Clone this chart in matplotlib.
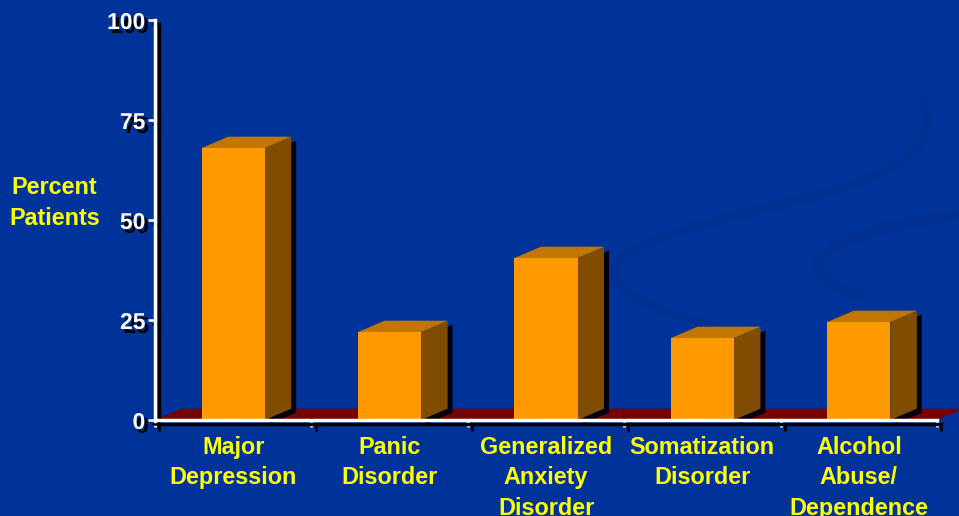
import matplotlib
matplotlib.use("Agg")
import matplotlib.pyplot as plt
import matplotlib.patheffects as pe
from matplotlib.patches import Polygon, PathPatch
from matplotlib.path import Path
import numpy as np

# ---- data ----
categories = ["Major\nDepression", "Panic\nDisorder", "Generalized\nAnxiety\nDisorder",
              "Somatization\nDisorder", "Alcohol\nAbuse/\nDependence"]
values = [68, 22, 40.5, 20.5, 24.5]
y_ticks = [0, 25, 50, 75, 100]
y_label = "Percent\nPatients"

# ---- style ----
BG = "#003399"
SWIRL = "#003192"
FRONT = "#FF9900"
TOP = "#C17600"
SIDE = "#804D00"
FLOOR = "#770000"
YELLOW = "#FFFF00"
FONT = "Liberation Sans"
LS = 1.41

W, H = 959, 516
fig = plt.figure(figsize=(W / 100, H / 100), dpi=100, facecolor=BG)

def fp(x, y):
    return (x / W, 1 - y / H)

# background swirls (decorative)
def swirl(points, lw):
    verts = [fp(*p) for p in points]
    codes = [Path.MOVETO] + [Path.CURVE4] * (len(verts) - 1)
    patch = PathPatch(Path(verts, codes), transform=fig.transFigure, fill=False,
                      edgecolor=SWIRL, lw=lw, capstyle="round", zorder=-5)
    fig.patches.append(patch)

swirl([(922, 97), (935, 135), (925, 165), (820, 195),
       (700, 225), (600, 245), (615, 280),
       (630, 300), (680, 318), (730, 332)], 7)
swirl([(959, 215), (900, 222), (830, 238), (818, 262),
       (812, 275), (835, 288), (860, 296)], 9)

ax = fig.add_axes([155 / W, 1 - 420 / H, 782 / W, 400 / H])
ax.set_zorder(2)
ax.set_facecolor("none")
n = len(categories)
x = np.arange(n)
ax.set_xlim(-0.5, n - 0.5)
ax.set_ylim(0, 100)

# depth in data units (26.5 px right, 11.3 px up)
DX = 26.5 / (782 / n)
DY = 11.3 / 4.0
BW = 0.403
SHX = 5 / (782 / n)
SHY = 4 / 4.0

# floor
x0, x1 = -0.5, n - 0.5
ax.add_patch(Polygon([(x0, 0), (x1, 0), (x1 + DX, DY), (x0 + DX, DY)],
                     closed=True, facecolor=FLOOR, edgecolor="none",
                     clip_on=False, zorder=1))

# bars
for xi, v in zip(x, values):
    l, r = xi - BW / 2, xi + BW / 2
    side = [(r, 0), (r + DX, DY), (r + DX, v + DY), (r, v)]
    shadow = [(px + SHX, py - SHY) for px, py in side]
    ax.add_patch(Polygon(shadow, closed=True, facecolor="#000010", edgecolor="none",
                         clip_on=False, zorder=2))
    ax.add_patch(Polygon(side, closed=True, facecolor=SIDE, edgecolor="none",
                         clip_on=False, zorder=3))
    top = [(l, v), (r, v), (r + DX, v + DY), (l + DX, v + DY)]
    ax.add_patch(Polygon(top, closed=True, facecolor=TOP, edgecolor="none",
                         clip_on=False, zorder=3))
ax.bar(x, values, width=BW, color=FRONT, zorder=4)

# axes styling
shadow_fx = [pe.SimpleLineShadow(offset=(3, -3), shadow_color="black", alpha=1, rho=0),
             pe.Normal()]
for s in ["top", "right"]:
    ax.spines[s].set_visible(False)
for s in ["left", "bottom"]:
    ax.spines[s].set_color("white")
    ax.spines[s].set_linewidth(2.5)
    ax.spines[s].set_path_effects(shadow_fx)
    ax.spines[s].set_zorder(5)

ax.set_yticks(y_ticks)
ax.set_yticklabels([str(t) for t in y_ticks])
ax.tick_params(axis="y", colors="white", length=5, width=1.8, pad=2,
               labelsize=16.5, labelcolor="white")
for lab in ax.get_yticklabels():
    lab.set_fontfamily(FONT)
    lab.set_fontweight("bold")
    lab.set_path_effects([pe.withSimplePatchShadow(offset=(2.5, -2.8),
                                                   shadow_rgbFace="black", alpha=1)])
for t in ax.yaxis.get_major_ticks():
    t.tick1line.set_path_effects(shadow_fx)

ax.set_xticks(x)
ax.set_xticklabels(categories)
ax.set_xticks(np.arange(n + 1) - 0.5, minor=True)
ax.tick_params(axis="x", which="major", length=0, pad=11.5)
ax.tick_params(axis="x", which="minor", colors="white", length=5, width=2, direction="out")
for t in ax.xaxis.get_minor_ticks():
    t.tick1line.set_path_effects(shadow_fx)
for lab in ax.get_xticklabels():
    lab.set_fontfamily(FONT)
    lab.set_fontweight("bold")
    lab.set_fontsize(16.8)
    lab.set_color(YELLOW)
    lab.set_linespacing(LS)
    lab.set_multialignment("center")

fig.text(54.5 / W, 1 - 203 / H, y_label, ha="center", va="center",
         family=FONT, fontweight="bold", fontsize=16.8, color=YELLOW,
         linespacing=LS, multialignment="center")

fig.savefig("out.png", dpi=100, facecolor=BG)
